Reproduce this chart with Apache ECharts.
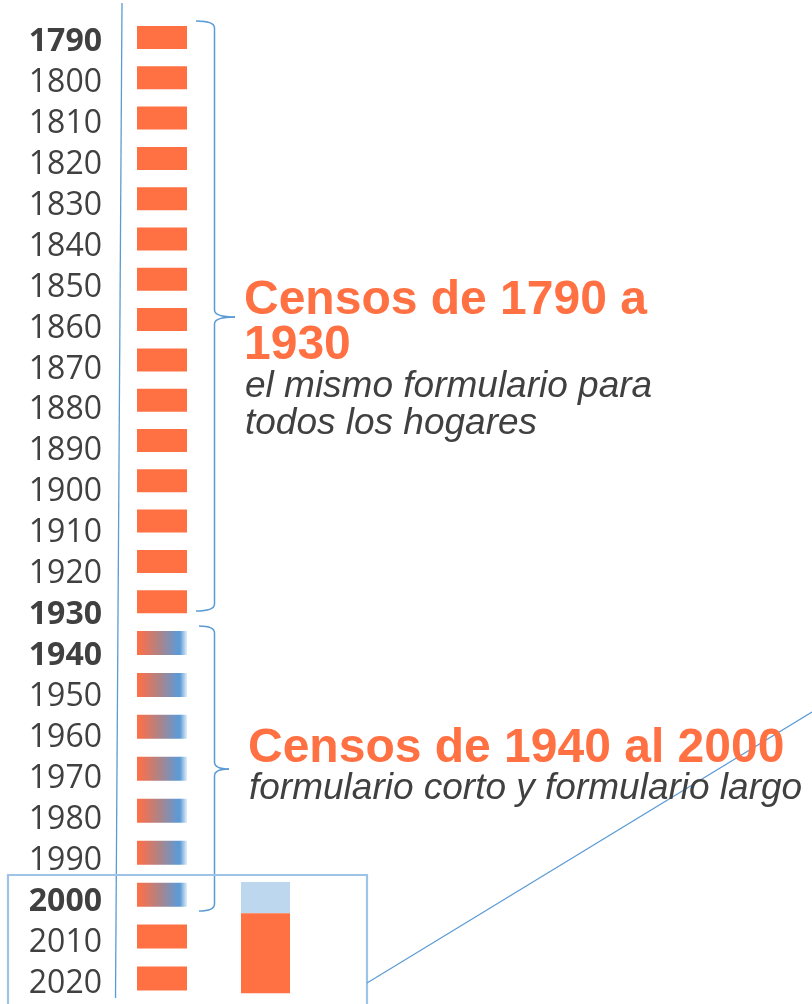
<!DOCTYPE html>
<html>
<head>
<meta charset="utf-8">
<script src="https://cdn.jsdelivr.net/npm/echarts@6/dist/echarts.min.js"></script>
<style>
  html, body { margin: 0; padding: 0; background: #fff; }
  #chart { width: 812px; height: 1004px; }
</style>
</head>
<body>
<div id="chart"></div>
<script>
// años de censo
const censos = ['1790', '1800', '1810', '1820', '1830', '1840', '1850', '1860',
  '1870', '1880', '1890', '1900', '1910', '1920', '1930', '1940', '1950', '1960',
  '1970', '1980', '1990', '2000', '2010', '2020'];
// formularios por censo: 1 = el mismo para todos, 2 = corto y largo
const formularios = [1, 1, 1, 1, 1, 1, 1, 1, 1, 1, 1, 1, 1, 1, 1,
  2, 2, 2, 2, 2, 2, 2, 1, 1];
// una barra por censo
const barras = [1, 1, 1, 1, 1, 1, 1, 1, 1, 1, 1, 1, 1, 1, 1, 1, 1, 1, 1, 1, 1, 1, 1, 1];
const anosDestacados = ['1790', '1930', '1940', '2000'];
// censo 2000: parte formulario largo, parte formulario corto
const partes2000 = [0.28, 0.72];

const naranja = '#FF7043';
const azul = '#5B9BD5';
const gris = '#404040';

const corte = 15; // 1790-1930 arriba, 1940-2020 abajo
const censosAltos = censos.slice(0, corte);
const censosBajos = censos.slice(corte);

const degradado = new echarts.graphic.LinearGradient(0, 0, 1, 0, [
  { offset: 0, color: '#FF7043' },
  { offset: 0.15, color: '#E8745A' },
  { offset: 0.5, color: '#A38690' },
  { offset: 0.78, color: '#6797CE' },
  { offset: 0.86, color: '#5B9BD5' },
  { offset: 1, color: '#E2EEF9' }
]);

function datosBarras(desde, hasta) {
  return barras.slice(desde, hasta).map((v, i) => ({
    value: v,
    itemStyle: { color: formularios[desde + i] === 2 ? degradado : naranja }
  }));
}

const ejeX = (i) => ({
  type: 'value', gridIndex: i, min: -0.32, max: 13.5, show: false
});
const ejeYOculto = (i, datos) => ({
  type: 'category', gridIndex: i, data: datos, inverse: true, show: false
});

// llave "}" hecha de curvas y líneas
function llave(x, arriba, punta, abajo, xGancho, xPunta) {
  const st = { stroke: azul, lineWidth: 1.5, fill: null };
  return {
    type: 'group',
    children: [
      { type: 'bezierCurve', shape: { x1: xGancho, y1: arriba, cpx1: x, cpy1: arriba, x2: x, y2: arriba + 7 }, style: st },
      { type: 'line', shape: { x1: x, y1: arriba + 7, x2: x, y2: punta - 7 }, style: st },
      { type: 'bezierCurve', shape: { x1: x, y1: punta - 7, cpx1: x, cpy1: punta, x2: xPunta, y2: punta }, style: st },
      { type: 'bezierCurve', shape: { x1: xPunta, y1: punta, cpx1: x, cpy1: punta, x2: x, y2: punta + 7 }, style: st },
      { type: 'line', shape: { x1: x, y1: punta + 7, x2: x, y2: abajo - 7 }, style: st },
      { type: 'bezierCurve', shape: { x1: x, y1: abajo - 7, cpx1: x, cpy1: abajo, x2: xGancho, y2: abajo }, style: st }
    ]
  };
}

const tituloFont = 'bold 48px "Liberation Sans", Arial';
const notaFont = 'italic 37px "Liberation Sans", Arial';

const chart = echarts.init(document.getElementById('chart'));
chart.setOption({
  animation: false,
  backgroundColor: '#fff',
  grid: [
    { left: 121, right: 0, top: 21.4, height: 987.6 },   // etiquetas
    { left: 121, right: 0, top: 17.35, height: 604.5 },  // barras 1790-1930
    { left: 121, right: 0, top: 622, height: 377.5 }     // barras 1940-2020
  ],
  xAxis: [ejeX(0), ejeX(1), ejeX(2)],
  yAxis: [
    {
      type: 'category', gridIndex: 0, data: censos, inverse: true,
      axisLine: { show: false }, axisTick: { show: false },
      axisLabel: {
        margin: 19,
        formatter: (v) => anosDestacados.includes(v) ? '{b|' + v + '}' : '{n|' + v + '}',
        rich: {
          n: { fontFamily: 'Open Sans', fontSize: 32, color: gris },
          b: { fontFamily: 'Open Sans', fontSize: 32, fontWeight: 'bold', color: gris }
        }
      }
    },
    ejeYOculto(1, censosAltos),
    ejeYOculto(2, censosBajos)
  ],
  series: [
    {
      type: 'bar', xAxisIndex: 1, yAxisIndex: 1, barWidth: 23,
      data: datosBarras(0, corte)
    },
    {
      type: 'bar', xAxisIndex: 2, yAxisIndex: 2, barWidth: 24,
      data: datosBarras(corte, censos.length)
    },
    {
      // barra ampliada del censo 2000 (largo arriba, corto abajo)
      type: 'custom', xAxisIndex: 2, yAxisIndex: 2,
      data: [[censosBajos.indexOf('2000'), censosBajos.indexOf('2020')]],
      renderItem: (params, api) => {
        const banda = api.size([0, 1])[1];
        const a = api.coord([2.08, api.value(0)]);
        const b = api.coord([3.06, api.value(1)]);
        const arriba = a[1] - banda * 0.3;
        const abajo = b[1] + banda * 0.35;
        const h = abajo - arriba;
        const hLargo = h * partes2000[0];
        return {
          type: 'group',
          children: [
            { type: 'rect', shape: { x: a[0], y: arriba, width: b[0] - a[0], height: hLargo },
              style: { fill: '#BDD7EE' } },
            { type: 'rect', shape: { x: a[0], y: arriba + hLargo, width: b[0] - a[0], height: h - hLargo },
              style: { fill: naranja } }
          ]
        };
      }
    }
  ],
  graphic: [
    // línea vertical
    { type: 'line', shape: { x1: 122, y1: 3, x2: 115.5, y2: 998 },
      style: { stroke: azul, lineWidth: 1.3 } },
    // llaves
    llave(214.5, 21, 317, 611, 196, 235),
    llave(214.5, 626, 769, 911, 199, 229),
    // recuadro y línea de ampliación
    { type: 'rect', shape: { x: 8, y: 875, width: 359, height: 140 },
      style: { stroke: '#9DC3E6', lineWidth: 2.2, fill: null } },
    { type: 'line', shape: { x1: 367, y1: 983, x2: 812, y2: 712 },
      style: { stroke: azul, lineWidth: 1.2 } },
    // textos
    { type: 'text', x: 244, y: 317 - 16.6,
      style: { text: 'Censos de 1790 a', font: tituloFont, fill: naranja, verticalAlign: 'middle' } },
    { type: 'text', x: 244, y: 362 - 16.6,
      style: { text: '1930', font: tituloFont, fill: naranja, verticalAlign: 'middle' } },
    { type: 'text', x: 245, y: 400 - 12.8,
      style: { text: 'el mismo formulario para', font: notaFont, fill: gris, verticalAlign: 'middle' } },
    { type: 'text', x: 245, y: 437 - 12.8,
      style: { text: 'todos los hogares', font: notaFont, fill: gris, verticalAlign: 'middle' } },
    { type: 'text', x: 248, y: 765 - 16.6,
      style: { text: 'Censos de 1940 al 2000', font: tituloFont, fill: naranja, verticalAlign: 'middle' } },
    { type: 'text', x: 249, y: 802 - 12.8,
      style: { text: 'formulario corto y formulario largo', font: notaFont, fill: gris, verticalAlign: 'middle' } }
  ]
});
</script>
</body>
</html>
